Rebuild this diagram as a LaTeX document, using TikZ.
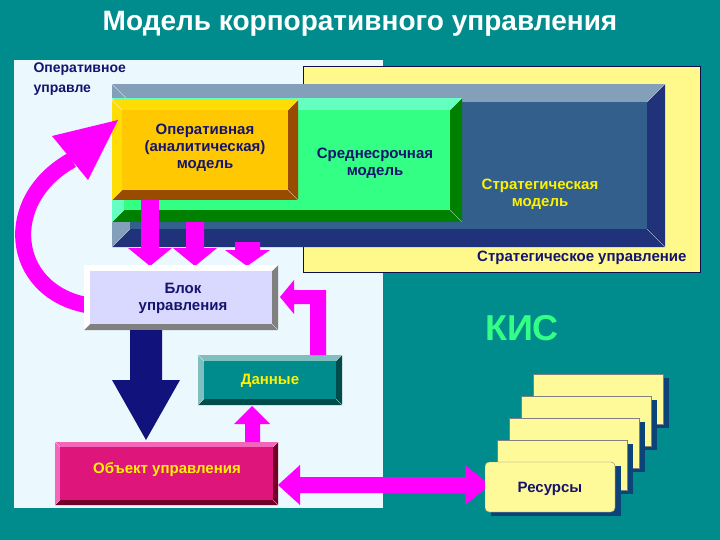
\documentclass[tikz,border=0pt]{standalone}
\usepackage{fontspec}
\setmainfont{Liberation Sans}
\begin{document}
\begin{tikzpicture}[x=1pt,y=-1pt,
  lbl/.style={font=\fontsize{15}{17}\selectfont\bfseries,align=center,text=navy}]
\definecolor{bg}{RGB}{0,140,140}
\definecolor{navy}{RGB}{20,20,110}
\definecolor{mg}{RGB}{255,0,255}
\definecolor{steel}{RGB}{50,95,140}
\definecolor{gold}{RGB}{255,200,0}
\newcommand\bvl[8]{% x1 y1 x2 y2 d face light dark
  \fill[#7] (#1,#2) rectangle (#3,#4);
  \fill[#8] (#3,#2) -- (#3,#4) -- (#1,#4) -- ({#1+#5},{#4-#5}) -- ({#3-#5},{#4-#5}) -- ({#3-#5},{#2+#5}) -- cycle;
  \fill[#6] ({#1+#5},{#2+#5}) rectangle ({#3-#5},{#4-#5});
  \draw[white,line width=0.3pt] (#1,#2) -- ({#1+#5},{#2+#5}) (#3,#2) -- ({#3-#5},{#2+#5}) (#1,#4) -- ({#1+#5},{#4-#5}) (#3,#4) -- ({#3-#5},{#4-#5});}
\useasboundingbox (0,0) rectangle (720,540);
\fill[bg] (0,0) rectangle (720,540);
\node[font=\fontsize{28}{32}\selectfont\bfseries,text=white] (title) at (360,24) {Модель корпоративного управления};
\fill[cyan!8] (14,60) rectangle (383,508);
\fill[yellow!45] (303,66) rectangle (700,272);
\draw[navy!70!black] (303,66) rectangle (700,272);
\node[lbl,anchor=north west,align=left,font=\fontsize{14}{20}\selectfont\bfseries] (opu) at (30,59) {Оперативное\\управле};
% strategic
\bvl{112}{84}{665}{247}{18}{steel}{steel!60!white}{navy!60!steel}
% medium
\bvl{112}{98}{462}{222}{12}{green!60!cyan!80}{green!40!cyan!60}{green!50!black}
% operative
\bvl{112}{100}{298}{200}{10}{gold}{yellow!80!orange}{orange!60!black}
\node[lbl] (om) at (205,148) {Оперативная\\(аналитическая)\\модель};
\node[lbl] (sm) at (375,163) {Среднесрочная\\модель};
\node[lbl,text=yellow] (stm) at (540,194) {Стратегическая\\модель};
\node[lbl,anchor=east] (su) at (690,258) {Стратегическое управление};
% down arrows
\fill[mg] (141,200) -- (159,200) -- (159,248) -- (172,248) -- (150,266) -- (128,248) -- (141,248) -- cycle;
\fill[mg] (186,222) -- (204,222) -- (204,248) -- (217,248) -- (195,266) -- (173,248) -- (186,248) -- cycle;
\fill[mg] (235,242) -- (260,242) -- (260,250) -- (270,250) -- (247,266) -- (225,250) -- (235,250) -- cycle;
% curved arrow
\draw[mg,line width=16pt] (86,305) .. controls (10,290) and (0,200) .. (72,160);
\fill[mg] (52,136) -- (118,120) -- (88,180) -- cycle;
% block
\bvl{84}{265}{278}{330}{6}{blue!15!white}{white}{gray}
\node[lbl] (blk) at (183,298) {Блок\\управления};
% navy arrow
\fill[navy!90!blue] (130,330) -- (162,330) -- (162,380) -- (180,380) -- (146,440) -- (112,380) -- (130,380) -- cycle;
% Данные
\bvl{198}{355}{342}{405}{6}{bg}{teal!50!white}{teal!60!black}
\node[lbl,text=yellow] (dat) at (270,381) {Данные};
% data->block
\fill[mg] (310,355) -- (326,355) -- (326,290) -- (294,290) -- (294,280) -- (280,297) -- (294,314) -- (294,304) -- (310,304) -- cycle;
% object
\bvl{55}{442}{278}{505}{5}{magenta!70!purple}{magenta!60}{purple!60!black}
\node[lbl,text=yellow] (obj) at (167,470) {Объект управления};
% obj->data
\fill[mg] (245,442) -- (260,442) -- (260,424) -- (270,424) -- (252,406) -- (234,424) -- (245,424) -- cycle;
% double arrow
\fill[mg] (278,485) -- (300,465) -- (300,477) -- (465,477) -- (465,465) -- (490,485) -- (465,505) -- (465,493) -- (300,493) -- (300,505) -- cycle;
\node[font=\fontsize{36}{40}\selectfont\bfseries,text=green!60!cyan!80] (kis) at (522,328) {КИС};
% resources
\foreach \i in {4,3,2,1} {
  \fill[navy!60!bg] ({485+12*\i+6},{462-22*\i+4}) rectangle ({615+12*\i+6},{512-22*\i+4});
  \fill[yellow!40,draw=gray] ({485+12*\i},{462-22*\i}) rectangle ({615+12*\i},{512-22*\i});
}
\fill[navy!60!bg] (491,466) rectangle (621,516);
\draw[fill=yellow!40,draw=gray,rounded corners=4pt] (485,462) rectangle (615,512);
\node[lbl] (res) at (550,489) {Ресурсы};
\end{tikzpicture}
\end{document}
